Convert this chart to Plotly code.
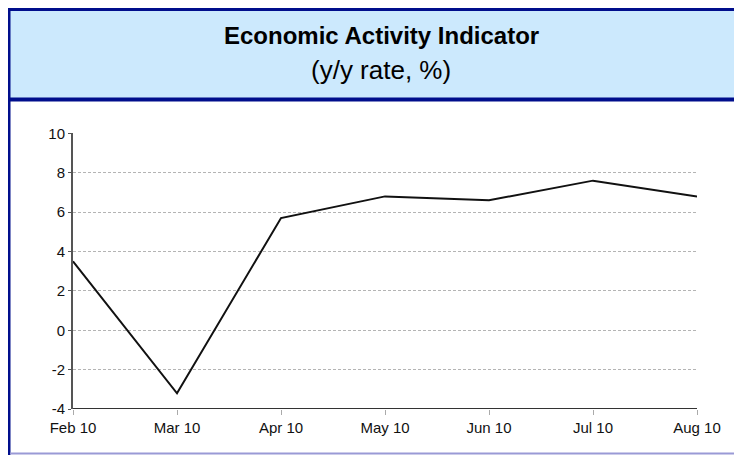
import plotly.graph_objects as go

months = ["Feb 10", "Mar 10", "Apr 10", "May 10", "Jun 10", "Jul 10", "Aug 10"]
rate = [3.5, -3.2, 5.7, 6.8, 6.6, 7.6, 6.8]
y_ticks = [-4, -2, 0, 2, 4, 6, 8, 10]
y_tick_text = [str(v) for v in y_ticks]

# page body has an 8px margin, so the figure starts at (8, 8) in the window
OFF = 8
W, H = 742 - OFF, 455 - OFF
def px(x):
    return (x - OFF) / W
def py(y):
    return 1 - (y - OFF) / H

fig = go.Figure()
fig.add_trace(go.Scatter(x=months, y=rate, mode="lines",
                         line=dict(color="#111111", width=2), hoverinfo="skip"))

tick_font = dict(family="Liberation Sans, Arial, sans-serif", size=15, color="#111111")

fig.update_layout(
    width=W, height=H,
    margin=dict(l=0, r=0, t=0, b=0),
    paper_bgcolor="white", plot_bgcolor="white",
    showlegend=False,
    xaxis=dict(domain=[px(73), px(697)], range=[0, 6], type="category",
               automargin=False,
               showgrid=False, zeroline=False, showline=False,
               ticks="outside", ticklen=5, tickcolor="#aaaaaa",
               tickfont=tick_font, fixedrange=True),
    yaxis=dict(domain=[py(409), py(133)], range=[-4, 10.02],
               tickvals=y_ticks, ticktext=y_tick_text, automargin=False,
               showgrid=True, gridcolor="#b4b4b4", griddash="3px,2px", gridwidth=1,
               zeroline=False, showline=True, linecolor="#555555", linewidth=2,
               ticks="outside", ticklen=3, tickcolor="#555555",
               tickfont=tick_font, fixedrange=True),
    shapes=[
        # header band
        dict(type="rect", xref="paper", yref="paper", x0=px(8), x1=px(745),
             y0=py(100), y1=py(9), fillcolor="#cce9fd", line=dict(width=0), layer="below"),
        # top border
        dict(type="line", xref="paper", yref="paper", x0=px(7), x1=px(745),
             y0=py(9.5), y1=py(9.5), line=dict(color="#000e8c", width=3)),
        # header bottom border
        dict(type="line", xref="paper", yref="paper", x0=px(7), x1=px(745),
             y0=py(99.5), y1=py(99.5), line=dict(color="#000e8c", width=4)),
        # left border
        dict(type="line", xref="paper", yref="paper", x0=px(9), x1=px(9),
             y0=py(8), y1=py(455), line=dict(color="#000e8c", width=3)),
        # bottom line
        dict(type="line", xref="paper", yref="paper", x0=px(10), x1=px(745),
             y0=py(453.5), y1=py(453.5), line=dict(color="#9a9ad6", width=2)),
        # x axis baseline
        dict(type="line", xref="x domain", yref="y", x0=0, x1=1,
             y0=-4, y1=-4, line=dict(color="#333333", width=2)),
    ],
    annotations=[
        dict(text="<b>Economic Activity Indicator</b>", xref="paper", yref="paper",
             x=px(381), y=py(35), showarrow=False, xanchor="center", yanchor="middle",
             font=dict(family="Liberation Sans, Arial, sans-serif", size=24, color="#000000")),
        dict(text="(y/y rate, %)", xref="paper", yref="paper",
             x=px(381), y=py(70), showarrow=False, xanchor="center", yanchor="middle",
             font=dict(family="Liberation Sans, Arial, sans-serif", size=26, color="#000000")),
    ],
)

fig.write_html("out.html")
